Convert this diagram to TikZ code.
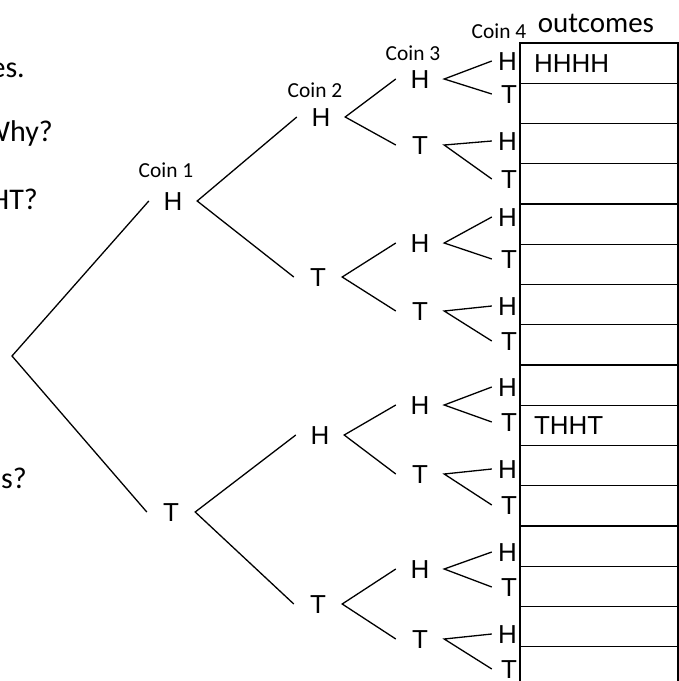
\documentclass[tikz,border=0pt]{standalone}
\usepackage{fontspec}
\setmainfont{Liberation Sans}
\newfontfamily\calib{Carlito}

\begin{document}
\begin{tikzpicture}[x=1pt,y=-1pt,
  toss/.style={minimum width=48pt,inner sep=0pt,text height=18.6pt,text depth=0pt,font=\fontsize{26}{28}\selectfont},
  leaf/.style={text width=24pt,align=right,inner sep=1pt,text height=18.6pt,text depth=0pt,font=\fontsize{26}{28}\selectfont},
  coin/.style={anchor=base,inner sep=0pt,font=\calib\fontsize{21.4}{23}\selectfont},
  question/.style={anchor=base east,inner sep=0pt,font=\calib\fontsize{30}{32}\selectfont},
  outrow/.style={draw,line width=1.4pt,text width=130pt,align=left,inner xsep=14pt,inner ysep=0pt,minimum height=40.25pt,text height=18.6pt,text depth=0pt,font=\fontsize{26}{28}\selectfont},
  branch/.style={line width=1.3pt}]
\clip (0,0) rectangle (679,681);

% cut-off text on the left
\path (25,77) node[question](q-one) {es.};
\path (53,141) node[question](q-two) {Why?};
\path (38,209) node[question](q-three) {HT?};
\path (27,488) node[question](q-four) {es?};

% headings
\path (166,177) node[coin](coin-1) {Coin 1};
\path (315,97) node[coin](coin-2) {Coin 2};
\path (413,60) node[coin](coin-3) {Coin 3};
\path (499,38) node[coin](coin-4) {Coin 4};
\path (596,32) node[coin,font=\calib\fontsize{29}{31}\selectfont](outcomes) {outcomes};

% the tree
\coordinate (start) at (12,356);
\path (173,201) node[toss](h) {H};
\path (171,512) node[toss](t) {T};

\path (321,117) node[toss](hh) {H};
\path (318,277) node[toss](ht) {T};
\path (320,435) node[toss](th) {H};
\path (318,604) node[toss](tt) {T};

\path (420,79) node[toss](hhh) {H};
\path (420,145) node[toss](hht) {T};
\path (420,243) node[toss](hth) {H};
\path (420,311) node[toss](htt) {T};
\path (420,405) node[toss](thh) {H};
\path (420,474) node[toss](tht) {T};
\path (420,569) node[toss](tth) {H};
\path (420,639) node[toss](ttt) {T};

\path (505,61) node[leaf](hhhh) {H};
\path (505,94) node[leaf](hhht) {T};
\path (505,141) node[leaf](hhth) {H};
\path (505,179) node[leaf](hhtt) {T};
\path (505,217) node[leaf](hthh) {H};
\path (505,259) node[leaf](htht) {T};
\path (505,306) node[leaf](htth) {H};
\path (505,341) node[leaf](httt) {T};
\path (505,387) node[leaf](thhh) {H};
\path (505,422) node[leaf](thht) {T};
\path (505,469) node[leaf](thth) {H};
\path (505,505) node[leaf](thtt) {T};
\path (505,552) node[leaf](tthh) {H};
\path (505,587) node[leaf](ttht) {T};
\path (505,634) node[leaf](ttth) {H};
\path (505,669) node[leaf](tttt) {T};

\draw[branch] (h.west) -- (start) -- (t.west);
\draw[branch] (hh.west) -- (h.east) -- (ht.west);
\draw[branch] (th.west) -- (t.east) -- (tt.west);
\draw[branch] (hhh.west) -- (hh.east) -- (hht.west);
\draw[branch] (hth.west) -- (ht.east) -- (htt.west);
\draw[branch] (thh.west) -- (th.east) -- (tht.west);
\draw[branch] (tth.west) -- (tt.east) -- (ttt.west);
\draw[branch] (hhhh.west) -- (hhh.east) -- (hhht.west);
\draw[branch] (hhth.west) -- (hht.east) -- (hhtt.west);
\draw[branch] (hthh.west) -- (hth.east) -- (htht.west);
\draw[branch] (htth.west) -- (htt.east) -- (httt.west);
\draw[branch] (thhh.west) -- (thh.east) -- (thht.west);
\draw[branch] (thth.west) -- (tht.east) -- (thtt.west);
\draw[branch] (tthh.west) -- (tth.east) -- (ttht.west);
\draw[branch] (ttth.west) -- (ttt.east) -- (tttt.west);

% outcome boxes
\path (599,63.1) node[outrow](row-1) {HHHH};
\path (599,103.4) node[outrow](row-2) {};
\path (599,143.6) node[outrow](row-3) {};
\path (599,183.9) node[outrow](row-4) {};
\path (599,224.1) node[outrow](row-5) {};
\path (599,264.4) node[outrow](row-6) {};
\path (599,304.6) node[outrow](row-7) {};
\path (599,344.9) node[outrow](row-8) {};
\path (599,385.1) node[outrow](row-9) {};
\path (599,425.4) node[outrow](row-10) {THHT};
\path (599,465.6) node[outrow](row-11) {};
\path (599,505.9) node[outrow](row-12) {};
\path (599,546.1) node[outrow](row-13) {};
\path (599,586.4) node[outrow](row-14) {};
\path (599,626.6) node[outrow](row-15) {};
\path (599,666.9) node[outrow](row-16) {};

\end{tikzpicture}
\end{document}
